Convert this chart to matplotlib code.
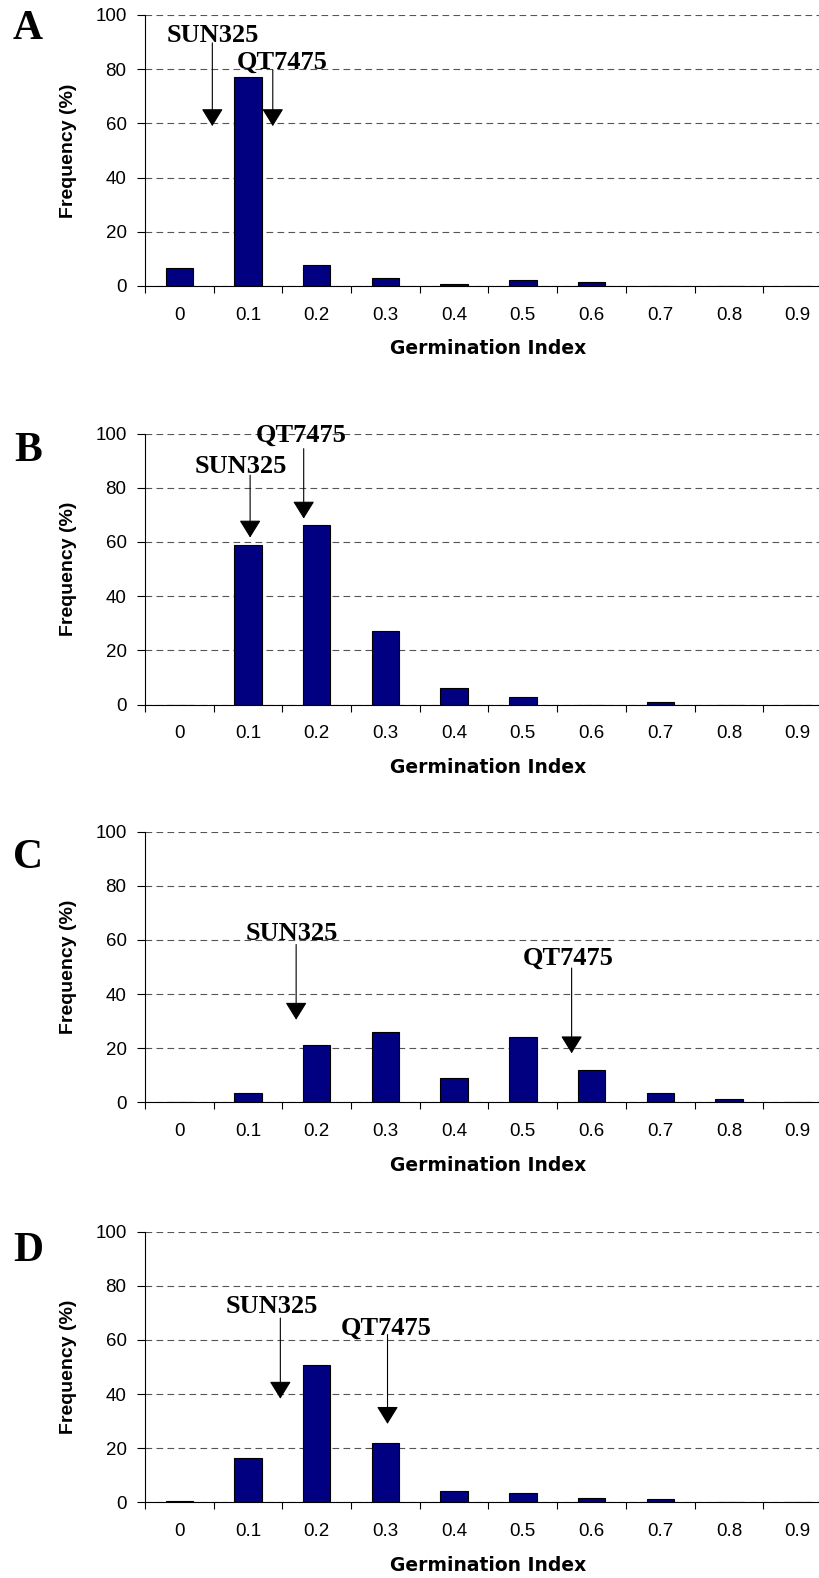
import matplotlib
matplotlib.use("Agg")
from matplotlib import pyplot as plt

# germination index classes (x axis)
gi_labels = ["0", "0.1", "0.2", "0.3", "0.4", "0.5", "0.6", "0.7", "0.8", "0.9"]

# frequency (%) per panel
freq_a = [6.6, 77.2, 7.7, 2.8, 0.6, 2.1, 1.4, 0, 0, 0]
freq_b = [0, 58.7, 66.1, 27.3, 6.0, 2.8, 0, 1.1, 0, 0]
freq_c = [0, 3.6, 21.2, 25.8, 9.1, 24.2, 11.9, 3.6, 1.4, 0]
freq_d = [0.6, 16.2, 50.7, 21.9, 4.0, 3.5, 1.7, 1.2, 0, 0]

panel_letters = ["A", "B", "C", "D"]

# parent line markers: arrow x (class index), arrow tail y, arrow tip y, label x, label baseline y
sun325_arrows = [(0.48, 89.7, 59.0, 0.48, 90.1),
                 (1.03, 84.6, 61.6, 0.89, 85.4),
                 (1.70, 58.3, 30.5, 1.64, 60.1),
                 (1.47, 68.1, 38.3, 1.35, 70.0)]
qt7475_arrows = [(1.36, 79.7, 59.0, 1.49, 80.3),
                 (1.81, 94.4, 68.6, 1.78, 96.9),
                 (5.71, 49.6, 18.1, 5.66, 50.9),
                 (3.03, 62.0, 29.0, 3.01, 62.1)]

W, H = 820, 1578
fig = plt.figure(figsize=(W / 100, H / 100), dpi=100)

# pixel positions of y=0 and y=100 for each panel
zero_px = [286.0, 704.5, 1102.3, 1502.3]
top_px = [15.0, 433.5, 831.6, 1231.8]
letter_base_px = [39.3, 461.0, 868.3, 1260.7]

left_px, spine_right = 145.0, 820.0
cat_w = 68.7
xmax = (spine_right - left_px) / cat_w - 0.5

serif = ["Liberation Serif", "DejaVu Serif"]
sans = ["Liberation Sans", "DejaVu Sans"]

for i, freqs in enumerate([freq_a, freq_b, freq_c, freq_d]):
    y0, y1 = zero_px[i], top_px[i]
    ax = fig.add_axes([left_px / W, (H - y0) / H, (spine_right - left_px) / W, (y0 - y1) / H])
    xs = list(range(len(gi_labels)))
    ax.bar(xs, freqs, width=0.4, color="#000080", edgecolor="black", linewidth=0.8, zorder=2)

    ax.set_xlim(-0.5, xmax)
    ax.set_ylim(0, 100)
    ax.set_yticks([0, 20, 40, 60, 80, 100])
    ax.set_xticks([k - 0.5 for k in range(10)])
    ax.set_xticklabels([])
    ax.set_xticks(xs, minor=True)
    ax.set_xticklabels(gi_labels, minor=True, fontsize=13.5, family=sans)
    ax.tick_params(axis="x", which="major", direction="out", length=5, width=0.8)
    ax.tick_params(axis="x", which="minor", length=0, pad=15)
    ax.tick_params(axis="y", direction="out", length=5.8, width=0.8, pad=7.5, labelsize=13.5)
    for lab in ax.get_yticklabels():
        lab.set_family(sans)

    for s in ["top", "right"]:
        ax.spines[s].set_visible(False)
    for s in ["left", "bottom"]:
        ax.spines[s].set_linewidth(0.8)

    ax.set_axisbelow(True)
    ax.yaxis.grid(True, color="#555555", linewidth=0.8, linestyle=(0, (6, 3.9)))

    ax.set_ylabel("Frequency (%)", fontsize=14, fontweight="bold", family=sans, va="center")
    ax.yaxis.set_label_coords((69 - left_px) / (spine_right - left_px), 0.5)
    ax.set_xlabel("Germination Index", fontsize=13.5, fontweight="bold", family="DejaVu Sans", va="center")
    ax.xaxis.set_label_coords(5 * cat_w / (spine_right - left_px), -63 / (y0 - y1))

    for name, arr in (("SUN325", sun325_arrows[i]), ("QT7475", qt7475_arrows[i])):
        ax_x, tail, tip, tx, ty = arr
        ax.annotate("", xy=(ax_x, tip), xytext=(ax_x, tail),
                    arrowprops=dict(arrowstyle="-|>,head_length=1.1,head_width=0.68",
                                    mutation_scale=10, color="black", lw=0.8,
                                    shrinkA=0, shrinkB=0), zorder=4)
        ax.text(tx, ty, name, ha="center", va="baseline", fontsize=19,
                fontweight="bold", family=serif, zorder=5)

    fig.text(28 / W, (H - letter_base_px[i]) / H, panel_letters[i], ha="center", va="baseline",
             fontsize=30, fontweight="bold", family=serif)

fig.savefig("out.png", dpi=100)
